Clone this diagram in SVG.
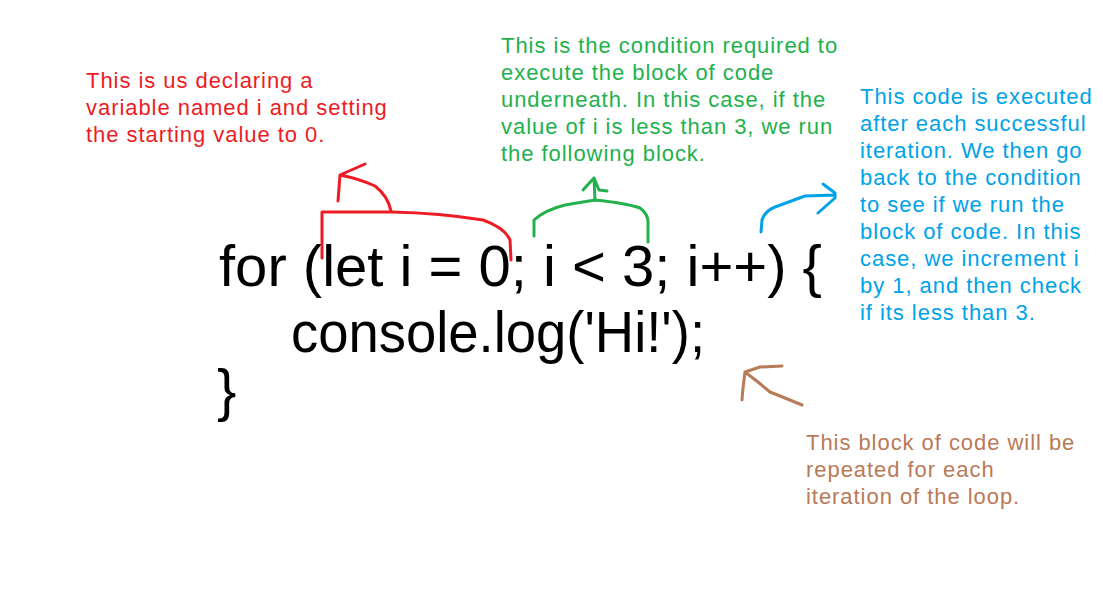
<svg xmlns="http://www.w3.org/2000/svg" width="1103" height="606" viewBox="0 0 1103 606">
<style>
.code{font-family:"Liberation Sans",Arial,sans-serif;font-size:58px;fill:#000}
.note{font-family:"Liberation Sans",Arial,sans-serif;font-size:22px;letter-spacing:0.95px}
.s{fill:none;stroke-width:3;stroke-linecap:round;stroke-linejoin:round}
.red{fill:#ED1C24}.green{fill:#22B14C}.blue{fill:#00A2E8}.brown{fill:#B97A57}
</style>
<rect width="1103" height="606" fill="#fff"/>
<g id="code">
<text class="code" x="219" y="286" textLength="603" lengthAdjust="spacingAndGlyphs">for (let i = 0; i &lt; 3; i++) {</text>
<text class="code" x="291" y="352" textLength="414" lengthAdjust="spacingAndGlyphs">console.log('Hi!');</text>
<text class="code" x="217" y="410">}</text>
</g>
<g id="note-init">
<text class="note red" x="86" y="88">This is us declaring a</text>
<text class="note red" x="86" y="115">variable named i and setting</text>
<text class="note red" x="86" y="142">the starting value to 0.</text>
</g>
<g id="note-condition">
<text class="note green" x="501" y="53">This is the condition required to</text>
<text class="note green" x="501" y="80">execute the block of code</text>
<text class="note green" x="501" y="107">underneath. In this case, if the</text>
<text class="note green" x="501" y="134">value of i is less than 3, we run</text>
<text class="note green" x="501" y="161">the following block.</text>
</g>
<g id="note-increment">
<text class="note blue" x="860" y="104">This code is executed</text>
<text class="note blue" x="860" y="131">after each successful</text>
<text class="note blue" x="860" y="158">iteration. We then go</text>
<text class="note blue" x="860" y="185">back to the condition</text>
<text class="note blue" x="860" y="212">to see if we run the</text>
<text class="note blue" x="860" y="239">block of code. In this</text>
<text class="note blue" x="860" y="266">case, we increment i</text>
<text class="note blue" x="860" y="293">by 1, and then check</text>
<text class="note blue" x="860" y="320">if its less than 3.</text>
</g>
<g id="note-body">
<text class="note brown" x="806" y="450">This block of code will be</text>
<text class="note brown" x="806" y="477">repeated for each</text>
<text class="note brown" x="806" y="504">iteration of the loop.</text>
</g>
<g id="connectors">
<path class="s" stroke="#ED1C24" d="M322 258 L322 212 L392 212 Q440 213 483 220 Q505 228 510 240 L511 260"/>
<path class="s" stroke="#ED1C24" d="M391 211 Q388 196 375 186 Q360 179 340 175 M340 175 L365 164 M340 175 L338 201"/>
<path class="s" stroke="#22B14C" d="M534 236 L534 220 Q545 210 565 205 L595 200 Q625 203 640 208 Q648 214 648 222 L648 242"/>
<path class="s" stroke="#22B14C" d="M595 200 L594 178 M594 178 L583 190 M594 178 L599 190 L607 191"/>
<path class="s" stroke="#00A2E8" d="M761 232 L762 220 Q765 211 775 207 L805 196 L835 195 M823 184 L835 193 L835 198 L818 213"/>
<path class="s" stroke="#B97A57" d="M802 405 L785 398 L770 392 L758 382 L745 372 M745 372 L760 367 L782 366 M745 372 L743 388 L742 400"/>
</g>
</svg>
